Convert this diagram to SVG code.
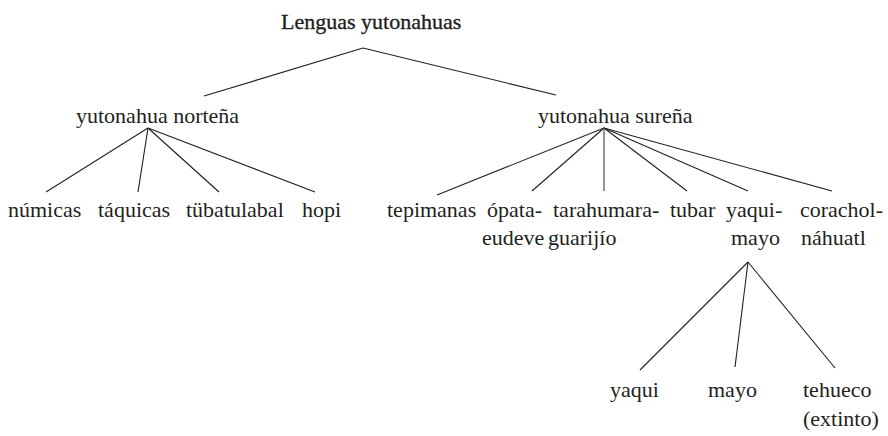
<svg xmlns="http://www.w3.org/2000/svg" width="888" height="436" viewBox="0 0 888 436">
  <style>
    text { font-family: "Liberation Serif", "Times New Roman", "DejaVu Serif", serif; font-size: 22px; fill: #231f20; }
    .title { stroke: #231f20; stroke-width: 0.35px; }
    .edge { stroke: #231f20; stroke-width: 1.1; fill: none; }
    .edge-soft { stroke: #7a7a7a; stroke-width: 1.6; fill: none; }
  </style>

  <!-- connectors -->
  <g id="connectors">
    <!-- root -->
    <line class="edge" x1="363" y1="48" x2="204" y2="96"/>
    <line class="edge" x1="363" y1="48" x2="556" y2="95"/>
    <!-- yutonahua norteña -->
    <line class="edge" x1="148" y1="128" x2="46" y2="192"/>
    <line class="edge" x1="148" y1="128" x2="138" y2="192"/>
    <line class="edge" x1="148" y1="128" x2="219" y2="192"/>
    <line class="edge" x1="148" y1="128" x2="315" y2="192"/>
    <!-- yutonahua sureña -->
    <line class="edge" x1="604" y1="128" x2="437" y2="195"/>
    <line class="edge" x1="604" y1="128" x2="532" y2="191"/>
    <line class="edge-soft" x1="604" y1="128" x2="604" y2="191"/>
    <line class="edge" x1="604" y1="128" x2="687" y2="191"/>
    <line class="edge" x1="604" y1="128" x2="748" y2="191"/>
    <line class="edge" x1="604" y1="128" x2="832" y2="191"/>
    <!-- yaqui-mayo -->
    <line class="edge" x1="748" y1="262" x2="640" y2="370"/>
    <line class="edge" x1="748" y1="262" x2="735" y2="367"/>
    <line class="edge" x1="748" y1="262" x2="835" y2="368"/>
  </g>

  <g id="root"><text class="title" x="281" y="29">Lenguas yutonahuas</text></g>

  <g id="nortena"><text x="76" y="123">yutonahua norteña</text></g>
  <g id="surena"><text x="538" y="123">yutonahua sureña</text></g>

  <g id="numicas"><text x="8" y="217">númicas</text></g>
  <g id="taquicas"><text x="98" y="217">táquicas</text></g>
  <g id="tubatulabal"><text x="186" y="217">tübatulabal</text></g>
  <g id="hopi"><text x="302" y="217">hopi</text></g>

  <g id="tepimanas"><text x="387" y="217">tepimanas</text></g>
  <g id="opata-eudeve"><text x="487" y="217">ópata-</text><text x="482" y="245">eudeve</text></g>
  <g id="tarahumara-guarijio"><text x="553" y="217">tarahumara-</text><text x="548" y="245">guarijío</text></g>
  <g id="tubar"><text x="670" y="217">tubar</text></g>
  <g id="yaqui-mayo"><text x="726" y="217">yaqui-</text><text x="731" y="245">mayo</text></g>
  <g id="corachol-nahuatl"><text x="800" y="217">corachol-</text><text x="801" y="245">náhuatl</text></g>

  <g id="yaqui"><text x="610" y="397">yaqui</text></g>
  <g id="mayo"><text x="708" y="397">mayo</text></g>
  <g id="tehueco"><text x="803" y="397">tehueco</text><text x="803" y="426">(extinto)</text></g>
</svg>
